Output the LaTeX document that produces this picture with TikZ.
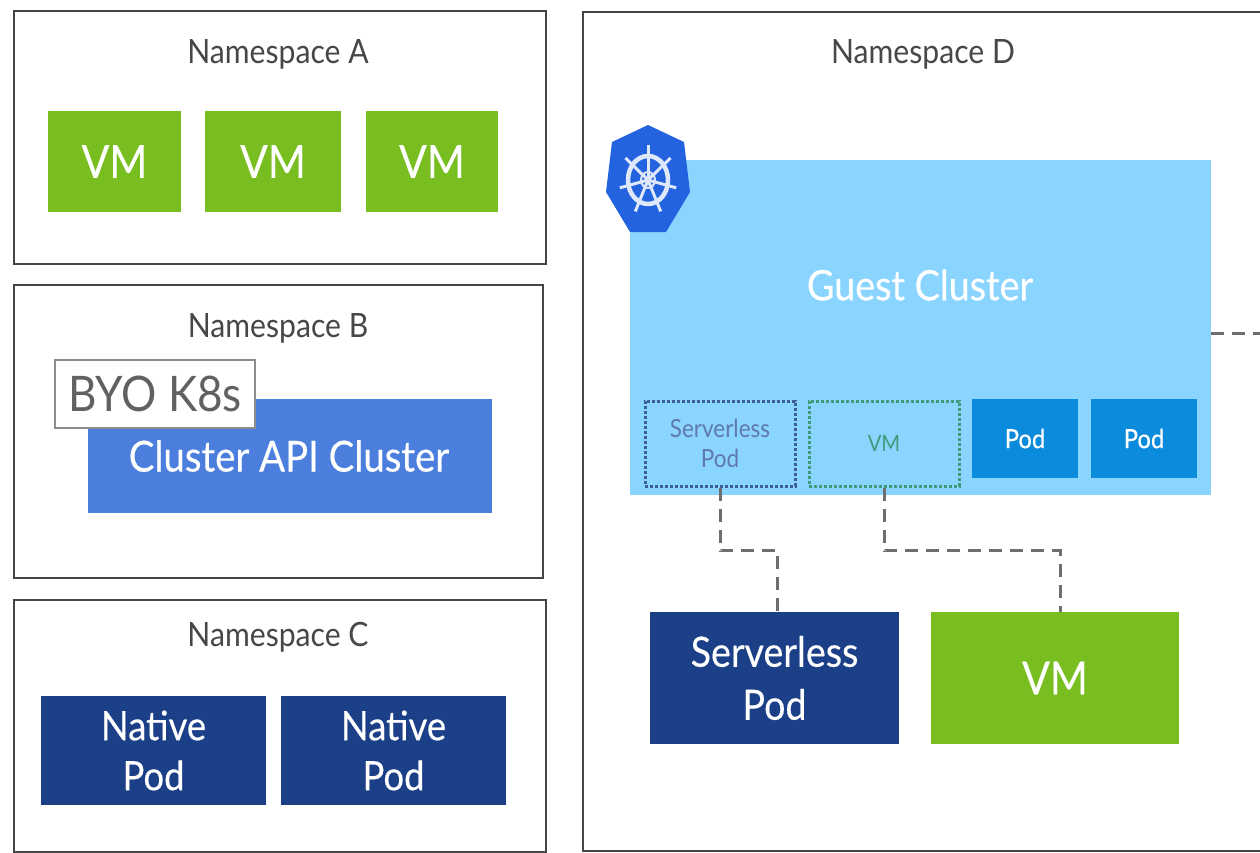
\documentclass[tikz,border=0pt]{standalone}
\usepackage{fontspec}
\setmainfont[FakeStretch=0.9]{Lato}
\newfontfamily\heavyfont[FakeStretch=0.9,FakeBold=0.35]{Lato}
\usetikzlibrary{positioning}
\definecolor{vmgreen}{HTML}{78BE20}
\definecolor{navypod}{HTML}{1B4088}
\definecolor{capiblue}{HTML}{4C7FDD}
\definecolor{guestblue}{HTML}{8AD5FF}
\definecolor{podblue}{HTML}{0A8BDB}
\definecolor{helmblue}{HTML}{2463E0}
\definecolor{framegray}{HTML}{454545}
\definecolor{dashgray}{HTML}{6E6E6E}
\definecolor{dotgreen}{HTML}{3F9A78}
\newcommand{\lowtext}[1]{\raisebox{-2pt}{#1}}
\tikzset{
	frame/.style={draw=framegray, line width=2.8pt, inner sep=0pt},
	nslabel/.style={font=\fontsize{33.5}{36}\selectfont, text=black!72},
	tile/.style={inner sep=0pt, align=center, text=white, font=\heavyfont\fontsize{45.5}{58}\selectfont},
	smalltile/.style={tile, font=\fontsize{25}{31}\selectfont},
	dotbox/.style={smalltile, draw, dotted, line width=3pt, minimum width=150pt, minimum height=85pt},
	link/.style={draw=dashgray, line width=3pt, dash pattern=on 13pt off 8pt},
}
\begin{document}
\begin{tikzpicture}[x=1pt, y=-1pt]
	\useasboundingbox (0,0) rectangle (1260,853);

	% namespaces
	\node[frame, minimum width=532pt, minimum height=253pt] (nsa) at (280,137.5) {};
	\node[frame, minimum width=529pt, minimum height=293pt] (nsb) at (278.5,431.5) {};
	\node[frame, minimum width=532pt, minimum height=252pt] (nsc) at (280,726) {};
	\draw[draw=framegray, line width=2.8pt] (1260,12) -- (583,12) -- (583,851) -- (1260,851);
	\node[nslabel] (lbla) at (278,54) {Namespace A};
	\node[nslabel] (lblb) at (278,328) {Namespace B};
	\node[nslabel] (lblc) at (278,637) {Namespace C};
	\node[nslabel] (lbld) at (923,54) {Namespace D};

	% namespace A
	\foreach \n\x\w in {a/114.5/133,b/273/136,c/432/132}{
		\node[tile, fill=vmgreen, minimum width=\w pt, minimum height=101pt] (vm\n) at (\x,161.5) {VM};
	}

	% namespace B
	\node[tile, fill=capiblue, minimum width=404pt, minimum height=114pt, font=\heavyfont\fontsize{42.6}{48}\selectfont] (capi) at (290,456) {\hspace*{-2pt}\raisebox{-4pt}{Cluster API Cluster}};
	\node[draw=black!45, fill=white, line width=2.4pt, minimum width=200pt, minimum height=68pt, inner sep=0pt, text=black!62, font=\fontsize{49}{52}\selectfont] (byo) at (155,394) {BYO K8s};

	% namespace C
	\foreach \n\x in {a/153.5,b/393.5}{
		\node[tile, fill=navypod, minimum width=225pt, minimum height=109pt, font=\heavyfont\fontsize{40.5}{50}\selectfont] (native\n) at (\x,750.5) {\lowtext{Native}\\\lowtext{Pod}};
	}

	% namespace D
	\node[fill=guestblue, minimum width=581pt, minimum height=335pt, inner sep=0pt] (guest) at (920.5,327.5) {};
	\node[text=white, font=\heavyfont\fontsize{41.9}{46}\selectfont] (guestlbl) at (920,285) {Guest Cluster};
	\fill[helmblue] (648,125) -- (684,142) -- (690,192) -- (666,232) -- (630,232) -- (606,192) -- (612,142) -- cycle;
	\draw[white!85!helmblue, line width=4.5pt] (648,180) ellipse (20pt and 24pt);
	\draw[white!85!helmblue, line width=2pt] (648,180) ellipse (7pt and 8pt);
	\foreach \a in {90,141,193,244,296,347,39}{
		\draw[white!85!helmblue, line width=3pt] (648,180) -- ++({\a}:29pt and 35pt);
	}
	\node[dotbox, draw=navypod!85, text=navypod!70] (spodin) at (720,443.5) {\raisebox{-1pt}{Serverless}\\Pod};
	\node[dotbox, draw=dotgreen, text=dotgreen, font=\fontsize{22.5}{30}\selectfont] (vmin) at (884,443.5) {VM};
	\node[smalltile, fill=podblue, minimum width=106pt, minimum height=79pt, font=\heavyfont\fontsize{26.5}{30}\selectfont] (poda) at (1025,438.5) {Pod};
	\node[smalltile, fill=podblue, minimum width=106pt, minimum height=79pt, font=\heavyfont\fontsize{26.5}{30}\selectfont] (podb) at (1144,438.5) {\raisebox{-6pt}{Pod}};
	\node[tile, fill=navypod, minimum width=249pt, minimum height=132pt, font=\heavyfont\fontsize{41.8}{53}\selectfont] (spod) at (774.5,678) {\lowtext{Serverless}\\\lowtext{Pod}};
	\node[tile, fill=vmgreen, minimum width=248pt, minimum height=132pt] (vmout) at (1055,678) {\lowtext{VM}};

	\coordinate (edge) at (1260,333);
	\draw[link] (spodin.south) -- ++(0,63) -| ([xshift=3pt]spod.north);
	\draw[link] (vmin.south) -- ++(0,63) -| ([xshift=5pt]vmout.north);
	\draw[link] (guest.east |- edge) -- (edge);
\end{tikzpicture}
\end{document}
